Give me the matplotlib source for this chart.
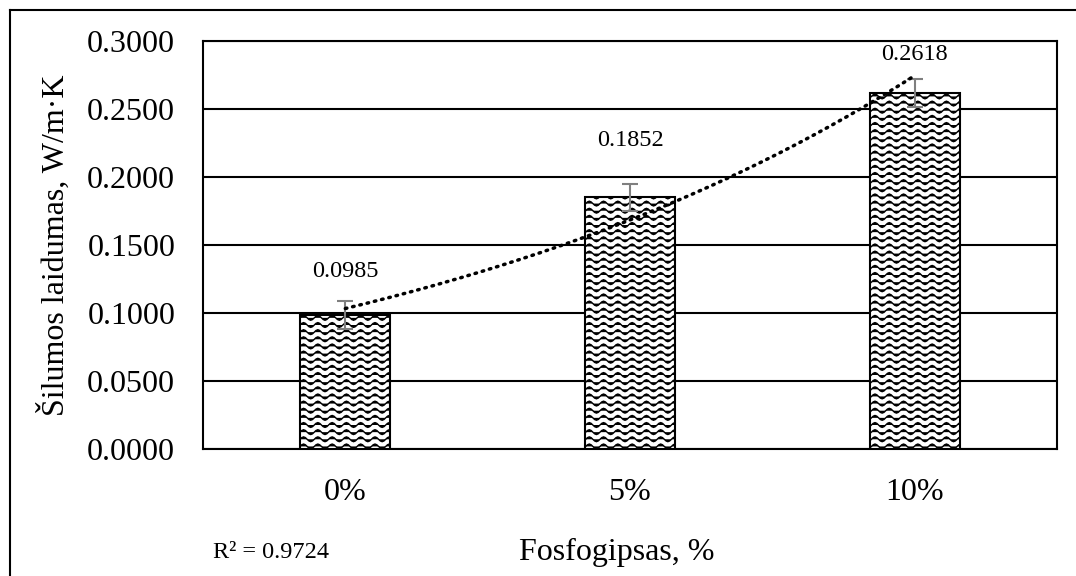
import warnings
warnings.filterwarnings("ignore")
import numpy as np
import matplotlib
matplotlib.use("Agg")
import matplotlib.pyplot as plt
from matplotlib import hatch as mhatch
from matplotlib.path import Path
from matplotlib.lines import Line2D

# ---- data ----
categories = ["0%", "5%", "10%"]
values = [0.0985, 0.1852, 0.2618]
errors = [0.0100, 0.0100, 0.0100]
value_labels = ["0.0985", "0.1852", "0.2618"]
y_ticks = [0.0, 0.05, 0.10, 0.15, 0.20, 0.25, 0.30]
label_offsets_pt = [31, 41, 28]  # style: vertical offset of value labels


# ---- custom wavy hatch ----
class WaveHatch(mhatch.HatchPatternBase):
    def __init__(self, hatch, density):
        self.num_rows = hatch.count('~') * 7
        self.periods = 7
        self.pts = self.periods * 8 + 1
        self.num_vertices = self.num_rows * self.pts

    def set_vertices_and_codes(self, vertices, codes):
        if self.num_rows == 0:
            return
        xs = np.linspace(0.0, 1.0, self.pts)
        wave = 0.024 * np.sin(2 * np.pi * self.periods * xs)
        for i in range(self.num_rows):
            y0 = (i + 0.5) / self.num_rows
            sl = slice(i * self.pts, (i + 1) * self.pts)
            vertices[sl, 0] = xs
            vertices[sl, 1] = y0 + wave
            codes[sl] = Path.LINETO
            codes[i * self.pts] = Path.MOVETO


mhatch._hatch_types.append(WaveHatch)

plt.rcParams['font.family'] = ['Liberation Serif', 'DejaVu Serif']
plt.rcParams['hatch.linewidth'] = 1.0

fig = plt.figure(figsize=(10.76, 5.76), dpi=100)
ax = fig.add_axes([203 / 1076, 1 - 449 / 576, (1057 - 203) / 1076, (449 - 41) / 576])

x = np.arange(1, len(categories) + 1)
ax.bar(x, values, width=0.316, color="white", edgecolor="black",
       linewidth=1.5, hatch="~~", zorder=3)
ax.errorbar(x, values, yerr=errors, fmt="none", ecolor="#7f7f7f",
            elinewidth=1.5, capsize=6, capthick=1.5, zorder=5)

# exponential trendline (Excel-style: least squares on ln y)
b, a = np.polyfit(x, np.log(values), 1)
xt = np.linspace(x[0], x[-1], 200)
yt = np.exp(a + b * xt)
ax.plot(xt, yt, color="black", linewidth=2.5, linestyle=(0, (0.45, 1.7)),
        dash_capstyle="round", zorder=6)
pred = a + b * x
ly = np.log(values)
r2 = 1 - np.sum((ly - pred) ** 2) / np.sum((ly - ly.mean()) ** 2)

for xi, v, lab, off in zip(x, values, value_labels, label_offsets_pt):
    ax.annotate(lab, (xi, v), xytext=(0, off), textcoords="offset points",
                ha="center", va="center", fontsize=17.5, zorder=7)

ax.set_xlim(0.5, len(categories) + 0.5)
ax.set_ylim(0, 0.3)
ax.set_yticks(y_ticks)
ax.set_yticklabels([f"{t:.4f}" for t in y_ticks], fontsize=23)
ax.set_xticks(x)
ax.set_xticklabels(categories, fontsize=23)
ax.tick_params(axis="both", length=0)
ax.tick_params(axis="y", pad=20)
ax.tick_params(axis="x", pad=21)
ax.yaxis.grid(True, color="black", linewidth=1.5, zorder=0)
ax.set_axisbelow(True)
for s in ax.spines.values():
    s.set_linewidth(1.5)
    s.set_color("black")

ax.set_ylabel("Šilumos laidumas, W/m·K", fontsize=23, labelpad=12)
fig.text(617 / 1076, 1 - 552 / 576, "Fosfogipsas, %", fontsize=23,
         ha="center", va="center")
fig.text(213 / 1076, 1 - 553 / 576, f"R² = {r2:.4f}", fontsize=17.5,
         ha="left", va="center")

# outer chart frame (left and top edges visible)
fig.add_artist(Line2D([10 / 1076, 10 / 1076], [0, 1 - 10 / 576],
                      transform=fig.transFigure, color="black", linewidth=1.5))
fig.add_artist(Line2D([10 / 1076, 1], [1 - 10 / 576, 1 - 10 / 576],
                      transform=fig.transFigure, color="black", linewidth=1.5))

fig.savefig("out.png", dpi=100)
